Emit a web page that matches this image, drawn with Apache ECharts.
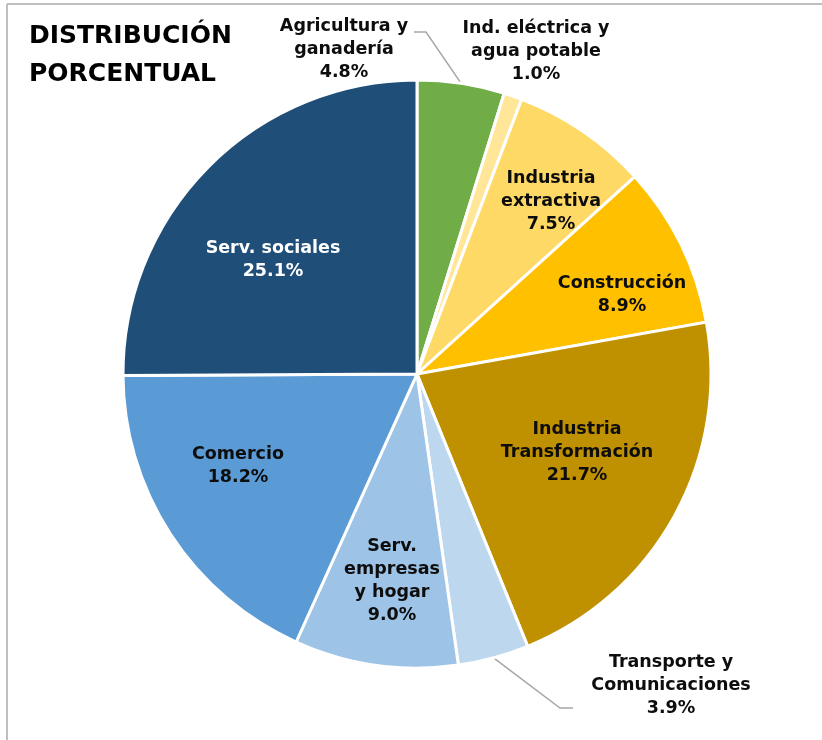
<!DOCTYPE html>
<html><head><meta charset="utf-8">
<script src="https://cdn.jsdelivr.net/npm/echarts@6/dist/echarts.min.js"></script>
<style>html,body{margin:0;padding:0;background:#fff}#c{width:822px;height:740px}</style>
</head><body><div id="c"></div>
<script>
const categories = ['Agricultura y\nganadería','Ind. eléctrica y\nagua potable','Industria\nextractiva','Construcción','Industria\nTransformación','Transporte y\nComunicaciones','Serv.\nempresas\ny hogar','Comercio','Serv. sociales'];
const values = [4.8, 1.0, 7.5, 8.9, 21.7, 3.9, 9.0, 18.2, 25.1];
const titleLines = ['DISTRIBUCIÓN', 'PORCENTUAL'];

// styling
const colors = ['#70AD47','#FFE699','#FFD966','#FFC000','#BF9000','#BDD7EE','#9DC3E6','#5B9BD5','#1F4E79'];
const textColors = ['#0d0d0d','#0d0d0d','#0d0d0d','#0d0d0d','#0d0d0d','#0d0d0d','#0d0d0d','#0d0d0d','#ffffff'];
const CX = 417, CY = 374, R = 294;
// label block centres (layout only)
const labelPos = [[344, 49], [536, 51], [551, 201], [622, 295], [577, 452], [671, 685], [392, 581], [238, 466], [273, 260]];
const outsideIdx = [0, 1, 5];
const lineOffsets = {0: [[82, -17], [70, -17]], 5: [[-111, 23], [-98, 23]]};
const FONT = '"DejaVu Sans", sans-serif';

const data = categories.map((n, i) => {
  const outside = outsideIdx.indexOf(i) >= 0;
  return {
    name: n, value: values[i],
    itemStyle: {color: colors[i]},
    label: {position: outside ? 'outside' : 'inside', color: textColors[i]},
    labelLine: {show: lineOffsets[i] != null}
  };
});

const chart = echarts.init(document.getElementById('c'), null, {renderer: 'canvas'});
chart.setOption({
  animation: false,
  title: {
    text: titleLines.join('\n'), left: 24, top: 12,
    textStyle: {fontFamily: FONT, fontSize: 25, fontWeight: 'bold', color: '#000', lineHeight: 38}
  },
  graphic: [
    {type: 'line', shape: {x1: 7, y1: 4, x2: 830, y2: 4}, style: {stroke: '#BFBFBF', lineWidth: 2}, z: -1},
    {type: 'line', shape: {x1: 7, y1: 4, x2: 7, y2: 750}, style: {stroke: '#BFBFBF', lineWidth: 2}, z: -1}
  ],
  series: [{
    type: 'pie',
    center: [CX, CY], radius: R,
    startAngle: 90, clockwise: true,
    avoidLabelOverlap: false,
    itemStyle: {borderColor: '#fff', borderWidth: 3},
    label: {
      show: true, fontFamily: FONT, fontSize: 17.5, fontWeight: 'bold', lineHeight: 23,
      formatter: p => p.name + '\n' + p.value.toFixed(1) + '%'
    },
    labelLine: {lineStyle: {color: '#A6A6A6', width: 1.5}},
    labelLayout: function (p) {
      const i = p.dataIndex;
      const x = labelPos[i][0], y = labelPos[i][1];
      const res = {x: x, y: y, align: 'center', verticalAlign: 'middle'};
      if (lineOffsets[i] && p.labelLinePoints) {
        const s = p.labelLinePoints[0];
        res.labelLinePoints = [[s[0], s[1]],
          [x + lineOffsets[i][0][0], y + lineOffsets[i][0][1]],
          [x + lineOffsets[i][1][0], y + lineOffsets[i][1][1]]];
      }
      return res;
    },
    data: data
  }]
});
</script></body></html>
